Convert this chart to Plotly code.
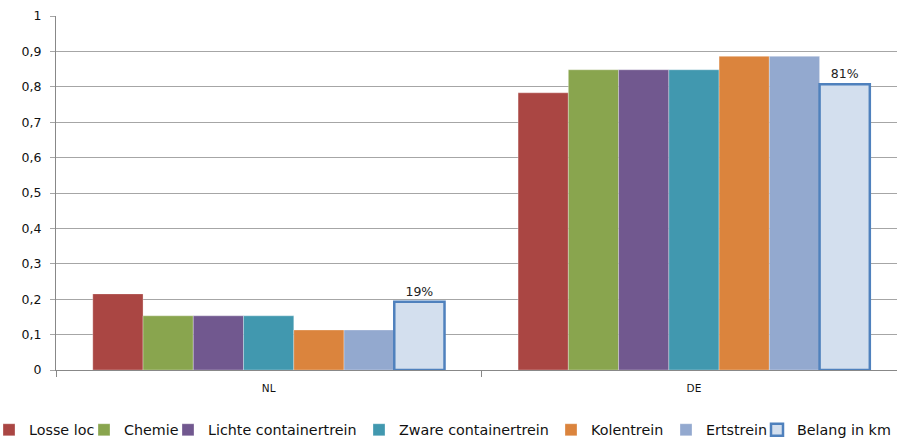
import plotly.graph_objects as go

categories = ["NL", "DE"]
series_names = ["Losse loc", "Chemie", "Lichte containertrein", "Zware containertrein",
                "Kolentrein", "Ertstrein", "Belang in km"]
losse_loc = [0.215, 0.783]
chemie = [0.153, 0.848]
lichte = [0.153, 0.848]
zware = [0.153, 0.848]
kolen = [0.113, 0.886]
erts = [0.113, 0.886]
belang = [0.193, 0.807]

colors = ["#AA4643", "#89A54E", "#71588F", "#4198AF", "#DB843D", "#93A9CF"]
values = [losse_loc, chemie, lichte, zware, kolen, erts]

# legend text start positions (px from left) for each item
legend_text_x = [26, 121, 205, 396, 588, 703, 794]
legend_ids = ["legend"] + [f"legend{i}" for i in range(2, 8)]

W, H = 897, 441
ML = 56
PW = W - ML

fig = go.Figure()
for i, (name, vals, col) in enumerate(zip(series_names[:6], values, colors)):
    fig.add_trace(go.Bar(x=categories, y=vals, name=name, marker_color=col,
                         marker_line=dict(color="rgba(255,255,255,0.5)", width=0.6),
                         legend=legend_ids[i]))
fig.add_trace(go.Bar(x=categories, y=belang, name=series_names[6],
                     marker=dict(color="#D3DFEE", line=dict(color="#4F81BD", width=2.5)),
                     texttemplate="%{y:.0%}", textposition="outside",
                     textfont=dict(size=12.5, color="#222222", family="DejaVu Sans"),
                     cliponaxis=False, legend=legend_ids[6]))

legend_common = dict(orientation="h", yref="container", y=0.025,
                     yanchor="middle", xanchor="left",
                     font=dict(size=14.3, color="#111111", family="DejaVu Sans"),
                     itemwidth=30, bgcolor="rgba(0,0,0,0)", borderwidth=0)
legends = {}
for k, (lid, tx) in enumerate(zip(legend_ids, legend_text_x)):
    left_px = tx - 40 + 3
    if k == 0:
        legends[lid] = dict(legend_common, xref="paper", x=(left_px - ML) / PW)
    else:
        legends[lid] = dict(legend_common, xref="container", x=left_px / W)

fig.update_layout(
    width=W, height=H,
    margin=dict(l=ML, r=0, t=16, b=71, autoexpand=False),
    barmode="group", bargap=0.173, bargroupgap=0,
    separators=",.",
    plot_bgcolor="white", paper_bgcolor="white",
    font=dict(family="DejaVu Sans, sans-serif", color="#000000"),
    showlegend=True,
    **legends,
)
fig.update_xaxes(range=[-0.5, 1.4774], showline=True, linecolor="#888888", linewidth=1,
                 ticks="outside", tickson="boundaries", ticklen=6, tickcolor="#888888",
                 ticklabelstandoff=8,
                 tickfont=dict(size=10.5, color="#111111"), showgrid=False)
fig.update_yaxes(range=[0, 1], dtick=0.1, showgrid=True, gridcolor="#A6A6A6", gridwidth=1,
                 showline=True, linecolor="#888888", linewidth=1,
                 ticks="outside", ticklen=5, tickcolor="#A6A6A6", ticklabelstandoff=6,
                 tickfont=dict(size=12.5, color="#111111"), zeroline=False)

fig.write_html("out.html", config={"displayModeBar": False},
               post_script="document.body.style.margin='0';")
